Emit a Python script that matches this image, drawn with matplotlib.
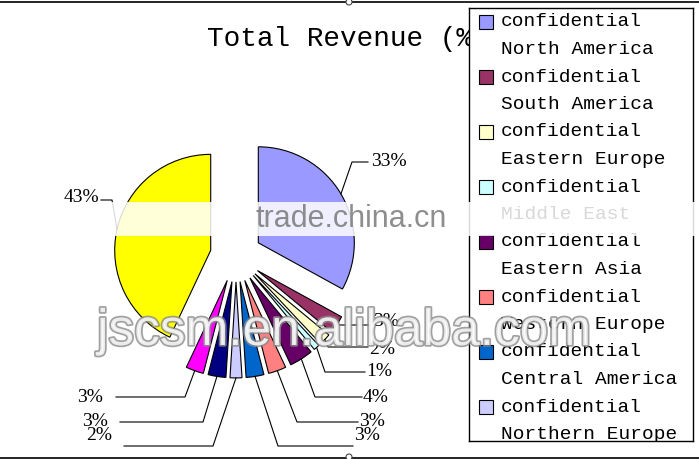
import numpy as np
import matplotlib.pyplot as plt
import matplotlib.patheffects as pe
from matplotlib.patches import Rectangle, Circle
from matplotlib.lines import Line2D

# Slices, clockwise from 12 o'clock
regions = ['North America', 'South America', 'Eastern Europe', 'Middle East',
           'Eastern Asia', 'Western Europe', 'Central America', 'Northern Europe',
           'Southern Europe', 'Oceania', 'Africa']
shares = [33, 3, 2, 1, 4, 3, 3, 2, 3, 3, 43]
colors = ['#9999FF', '#993366', '#FFFFCC', '#CCFFFF', '#660066', '#FF8080',
          '#0066CC', '#CCCCFF', '#000080', '#FF00FF', '#FFFF00']
pct_labels = [f'{v}%' for v in shares]

W, H = 699, 459
fig = plt.figure(figsize=(W / 100, H / 100), dpi=100)

# pie axes covers the figure: 96 px per data unit, pie centre at pixel (236, 256)
S, CX, CY = 96.0, 236.0, 256.0


def px(x, y):
    return (x - CX) / S, (CY - y) / S


ax = fig.add_axes([0, 0, 1, 1])
wedges, _ = ax.pie(shares, colors=colors, startangle=90, counterclock=False,
                   explode=[0.27] * len(shares), radius=1,
                   wedgeprops=dict(edgecolor='black', linewidth=0.8))
ax.set_xlim(-CX / S, (W - CX) / S)
ax.set_ylim(-(H - CY) / S, CY / S)
ax.set_aspect('equal')
ax.axis('off')

# leader lines: elbow (px), end of horizontal run (px x), label anchor (px) + alignment
leaders = [
    ((352, 162), 368, (371, 161, 'left')),
    ((340, 325), 372, (373, 321, 'left')),
    ((328, 347), 368, (369, 349, 'left')),
    ((325, 372), 365, (366, 372, 'left')),
    ((315, 397), 362, (363, 397, 'left')),
    ((297, 422), 358, (359, 421, 'left')),
    ((278, 446), 353, (354, 435, 'left')),
    ((213, 446), 124, (112, 435, 'right')),
    ((203, 422), 120, (108, 421, 'right')),
    ((185, 397), 116, (103, 397, 'right')),
    ((112, 200), 101, (99, 197, 'right')),
]
for w, lab, (elb, end_x, (tx, ty, ha)) in zip(wedges, pct_labels, leaders):
    mid = np.deg2rad((w.theta1 + w.theta2) / 2)
    x0 = w.center[0] + w.r * np.cos(mid)
    y0 = w.center[1] + w.r * np.sin(mid)
    ex, ey = px(*elb)
    lx, _ = px(end_x, elb[1])
    ax.plot([x0, ex, lx], [y0, ey, ey], color='black', lw=0.8)
    ax.text(*px(tx, ty), lab, ha=ha, va='center', fontsize=14,
            family='Liberation Serif', color='black')

# title (partly hidden behind the legend box)
ax.text(207 / W, 1 - 46 / H, 'Total Revenue (%)', transform=fig.transFigure,
        fontsize=20, family='Liberation Mono', va='baseline', ha='left')

# legend box, clipped at the bottom like the original
lax = fig.add_axes([469 / W, 1 - 441 / H, (693 - 469) / W, (441 - 8) / H], zorder=2)
lax.set_xlim(469, 693)
lax.set_ylim(441, 8)
lax.set_xticks([])
lax.set_yticks([])
for s in lax.spines.values():
    s.set_linewidth(1.0)
    s.set_color('black')
for i, (name, c) in enumerate(zip(regions, colors)):
    y = 22 + 55 * i
    lax.add_patch(Rectangle((479, y - 7), 14, 14, facecolor=c, edgecolor='black', lw=0.8))
    lax.text(501, y, 'confidential', va='center', fontsize=14,
             family='Liberation Mono', color='black', clip_on=True)
    lax.text(501, y + 27.5, name, va='center', fontsize=14,
             family='Liberation Mono', color='black', clip_on=True)

# watermarks
fig.add_artist(Rectangle((55 / W, 1 - 236 / H), (W - 55) / W, 34 / H,
                         transform=fig.transFigure, facecolor='white',
                         alpha=0.85, edgecolor='none', zorder=5))
fig.text(255 / W, 1 - 219 / H, 'trade.china.cn', fontsize=22, family='Liberation Sans',
         color='#7a7a7a', alpha=0.85, va='center', zorder=6)
fig.text(97 / W, 1 - 345 / H, 'jscsm.en.alibaba.com', fontsize=37,
         family='Liberation Sans', color='white', alpha=0.8, va='baseline', zorder=6,
         path_effects=[pe.Stroke(linewidth=2.5, foreground='#8a8a8a'), pe.Normal()])

# chart frame edges with selection handles
for yy in (1 - 1.5 / H, 1 - 457.5 / H):
    fig.add_artist(Line2D([0, 1], [yy, yy], transform=fig.transFigure,
                          color='black', lw=1.2, zorder=7))
for hx, hy in ((349, 2), (349, 457)):
    fig.add_artist(Circle((hx, H - hy), 3, transform=None, facecolor='white',
                          edgecolor='#444444', lw=0.8, zorder=8))

fig.savefig('out.png', dpi=100, facecolor='white')
